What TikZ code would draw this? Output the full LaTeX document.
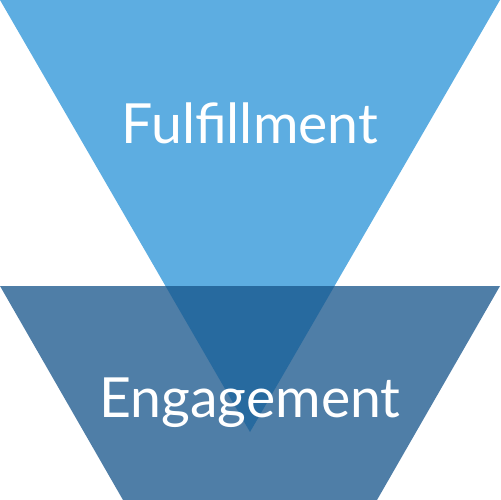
\documentclass[tikz,border=0pt]{standalone}
\usepackage{fontspec}
\setmainfont{Lato}
\definecolor{topblue}{RGB}{93,173,225}
\definecolor{lowblue}{RGB}{79,126,167}
\definecolor{midblue}{RGB}{39,106,159}
\tikzset{lbl/.style={text=white,font=\fontsize{31.5}{36}\selectfont,inner sep=0pt}}
\begin{document}
\begin{tikzpicture}[x=0.02cm,y=-0.02cm]
\useasboundingbox (0,0) rectangle (500,500);
\fill[topblue] (0,0) -- (500,0) -- (250,432) -- cycle;
\fill[lowblue] (0,286) -- (500,286) -- (377,500) -- (123,500) -- cycle;
\fill[midblue] (165.5,286) -- (334.5,286) -- (250,432) -- cycle;
\node[lbl] (f) at (250,123) {Fulfillment};
\node[lbl] (e) at (250,403) {Engagement};
\end{tikzpicture}
\end{document}
